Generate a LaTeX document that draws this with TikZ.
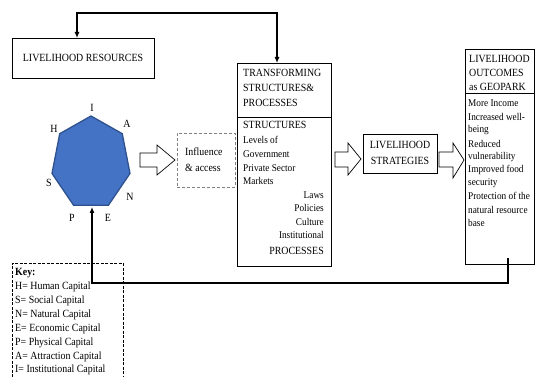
\documentclass[tikz,border=0pt]{standalone}
\usepackage{fontspec}
\setmainfont{Liberation Serif}[FakeStretch=0.9]
\usetikzlibrary{arrows.meta}
\definecolor{hepfill}{HTML}{4472C4}
\definecolor{hepdraw}{HTML}{2F528F}
\begin{document}
\begin{tikzpicture}[x=1pt,y=-1pt,
  box/.style={draw, line width=0.6pt, inner sep=0pt},
  txt/.style={inner sep=0pt, font=\fontsize{11}{13}\selectfont},
  sml/.style={inner sep=0pt, font=\fontsize{10.3}{13}\selectfont},
  keytxt/.style={inner sep=0pt, anchor=west, font=\fontsize{11}{13}\selectfont},
  conn/.style={line width=1.1pt, -{Latex[length=6pt,width=5pt]}},
  hollow/.style={draw, line width=0.7pt, fill=white, line join=miter}]
\useasboundingbox (0,0) rectangle (536,377);

% boxes
\node[box, minimum width=142pt, minimum height=40pt, anchor=north west] (lr) at (12,38) {};
\node[txt] (lrt) at (83,58) {LIVELIHOOD RESOURCES};

\node[box, minimum width=94pt, minimum height=203pt, anchor=north west] (ts) at (237,63) {};
\draw[line width=0.6pt] (237,117) -- (331,117);
\node[txt, anchor=west] (ts1) at (243,73) {TRANSFORMING};
\node[txt, anchor=west] (ts2) at (243,88) {STRUCTURES\&};
\node[txt, anchor=west] (ts3) at (243,103) {PROCESSES};
\node[txt, anchor=west] (ts4) at (243,125) {STRUCTURES};
\node[sml, anchor=west] (ts5) at (243,140) {Levels of};
\node[sml, anchor=west] (ts6) at (243,154) {Government};
\node[sml, anchor=west] (ts7) at (243,168) {Private Sector};
\node[sml, anchor=west] (ts8) at (243,181) {Markets};
\node[sml, anchor=east] (ts9) at (324,195) {Laws};
\node[sml, anchor=east] (ts10) at (324,208) {Policies};
\node[sml, anchor=east] (ts11) at (324,222) {Culture};
\node[sml, anchor=east] (ts12) at (324,235) {Institutional};
\node[txt, anchor=east] (ts13) at (324,251) {PROCESSES};

\node[box, dashed, draw=gray, dash pattern=on 3pt off 2pt, minimum width=58pt, minimum height=54pt, anchor=north west] (inf) at (177,133) {};
\node[txt, anchor=west] (inf1) at (185,152) {Influence};
\node[txt, anchor=west] (inf2) at (185,168) {\& access};

\node[box, minimum width=74pt, minimum height=39pt, anchor=north west] (ls) at (363,134) {};
\node[txt] (ls1) at (400,145) {LIVELIHOOD};
\node[txt] (ls2) at (400,161) {STRATEGIES};

\node[box, minimum width=69pt, minimum height=215pt, anchor=north west] (lo) at (465,49) {};
\draw[line width=0.6pt] (465,93) -- (534,93);
\node[txt, anchor=west] (lo1) at (469,59) {LIVELIHOOD};
\node[txt, anchor=west] (lo2) at (469,73) {OUTCOMES};
\node[txt, anchor=west] (lo3) at (469,87) {as GEOPARK};
\node[sml, anchor=west] (lo4) at (468,103) {More Income};
\node[sml, anchor=west] (lo5) at (468,117) {Increased well-};
\node[sml, anchor=west] (lo6) at (468,130) {being};
\node[sml, anchor=west] (lo7) at (468,144) {Reduced};
\node[sml, anchor=west] (lo8) at (468,157) {vulnerability};
\node[sml, anchor=west] (lo9) at (468,170) {Improved food};
\node[sml, anchor=west] (lo10) at (468,183) {security};
\node[sml, anchor=west] (lo11) at (468,196) {Protection of the};
\node[sml, anchor=west] (lo12) at (468,210) {natural resource};
\node[sml, anchor=west] (lo13) at (468,223) {base};

% heptagon
\begin{scope}[shift={(91,163)}]
\filldraw[fill=hepfill, draw=hepdraw, line width=1.3pt, line join=miter]
  ({40*cos(90)},{-47*sin(90)})
  \foreach \k in {1,...,6} { -- ({40*cos(90+\k*360/7)},{-47*sin(90+\k*360/7)}) } -- cycle;
\end{scope}
\node[txt] (lI) at (92,108) {I};
\node[txt] (lH) at (54,129) {H};
\node[txt] (lA) at (127,124) {A};
\node[txt] (lS) at (49,183) {S};
\node[txt] (lN) at (130,197) {N};
\node[txt] (lP) at (72,218) {P};
\node[txt] (lE) at (108,218) {E};
\coordinate (hepB) at (92,207);

% hollow arrows
\draw[hollow] (140,153) -- (157,153) -- (157,145) -- (175,160) -- (157,175) -- (157,167) -- (140,167) -- cycle;
\draw[hollow] (335,152) -- (348,152) -- (348,143) -- (361,159) -- (348,175) -- (348,167) -- (335,167) -- cycle;
\draw[hollow] (439,152) -- (453,152) -- (453,143) -- (464,160) -- (453,178) -- (453,167) -- (439,167) -- cycle;

% key
\draw[line width=0.7pt, dash pattern=on 3pt off 1.5pt] (12,377) -- (12,263) -- (123,263) -- (123,377);
\node[keytxt, font=\bfseries\fontsize{11}{13}\selectfont] (k0) at (15,273) {Key:};
\node[keytxt] (k1) at (15,287) {H= Human Capital};
\node[keytxt] (k2) at (15,301) {S= Social Capital};
\node[keytxt] (k3) at (15,315) {N= Natural Capital};
\node[keytxt] (k4) at (15,329) {E= Economic Capital};
\node[keytxt] (k5) at (15,343) {P= Physical Capital};
\node[keytxt] (k6) at (15,357) {A= Attraction Capital};
\node[keytxt] (k7) at (15,370) {I= Institutional Capital};

% connectors
\coordinate (lrN) at (77,38);
\coordinate (tsN) at (277,63);
\coordinate (tl) at (77,13);
\coordinate (tr) at (277,13);
\draw[line width=1.1pt, {Latex[length=6pt,width=5pt]}-{Latex[length=6pt,width=5pt]}] (lrN) -- (tl) -- (tr) -- (tsN);
\coordinate (loB) at (508,258);
\coordinate (br) at (508,283);
\coordinate (bl) at (92,283);
\draw[conn] (loB) -- (br) -- (bl) -- (hepB);
\end{tikzpicture}
\end{document}
